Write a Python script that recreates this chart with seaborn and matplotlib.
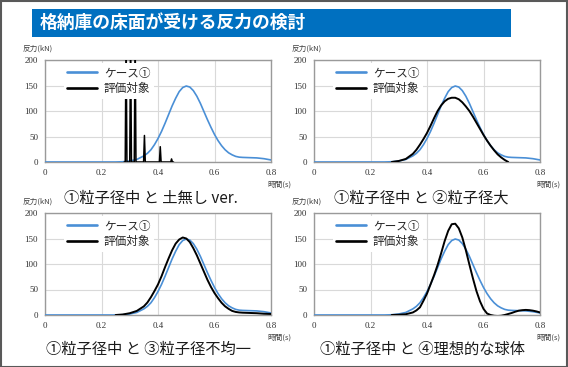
import matplotlib
matplotlib.use("Agg")
import pandas as pd
import seaborn as sns
import matplotlib.pyplot as plt
from matplotlib.patches import Rectangle

# ケース① (blue, same curve in every panel)
case1_t = [0.0, 0.05, 0.1, 0.15, 0.2, 0.25, 0.275, 0.3, 0.325, 0.35,
           0.3625, 0.375, 0.3875, 0.4, 0.4125, 0.425, 0.4375, 0.45, 0.4625,
           0.475, 0.4875, 0.5, 0.5125, 0.525, 0.5375, 0.55, 0.5625, 0.575,
           0.5875, 0.6, 0.6125, 0.625, 0.6375, 0.65, 0.6625, 0.675, 0.6875,
           0.7, 0.725, 0.75, 0.775, 0.8]
case1_y = [0, 0, 0, 0, 0, 0, 0.5, 2, 5, 12,
           17, 24, 34, 46, 60, 76, 93, 110, 125,
           138, 146, 149, 147, 140, 129, 115, 99, 83,
           68, 54, 42, 32, 24, 18, 14, 11, 9.5,
           9, 8.5, 8, 6.5, 4]

# panel 1: 土無し ver. (spikes)
soil_t = [0.280, 0.284, 0.287, 0.290, 0.300, 0.303, 0.306, 0.316, 0.319,
          0.322, 0.349, 0.352, 0.355, 0.405, 0.408, 0.411, 0.445, 0.448,
          0.451, 0.455]
soil_y = [0, 0, 260, 0, 0, 260, 0, 0, 260, 0, 0, 52, 0, 0, 30, 0, 0, 6, 0, 0]

# panel 2: 粒子径大
large_t = [0.275, 0.3, 0.325, 0.35, 0.3625, 0.375, 0.3875, 0.4, 0.4125,
           0.425, 0.4375, 0.45, 0.4625, 0.475, 0.4875, 0.5, 0.5125, 0.525,
           0.5375, 0.55, 0.5625, 0.575, 0.5875, 0.6, 0.6125, 0.625, 0.6375,
           0.65, 0.6625, 0.675, 0.6875]
large_y = [0, 2, 6, 16, 24, 34, 45, 57, 71,
           86, 100, 111, 119, 124, 126, 126, 123, 117,
           109, 100, 89, 77, 65, 53, 42, 32, 23,
           15, 9, 4, 0]

# panel 3: 粒子径不均一
mixed_t = [0.25, 0.275, 0.3, 0.325, 0.35, 0.3625, 0.375, 0.3875, 0.4, 0.4125,
           0.425, 0.4375, 0.45, 0.4625, 0.475, 0.4875, 0.5, 0.5125, 0.525,
           0.5375, 0.55, 0.5625, 0.575, 0.5875, 0.6, 0.6125, 0.625, 0.6375,
           0.65, 0.6625, 0.675, 0.6875, 0.7, 0.725, 0.75, 0.775, 0.8]
mixed_y = [0, 1, 3.5, 8, 17, 24.5, 35, 47, 60, 76,
           94, 111, 127, 140, 148, 152, 150, 143, 131,
           117, 101, 85, 69, 55, 43, 33, 24, 17,
           12, 8, 6, 5, 4.5, 4, 3.5, 2.5, 2]

# panel 4: 理想的な球体
sphere_t = [0.275, 0.3, 0.325, 0.35, 0.3625, 0.375, 0.3875, 0.4, 0.4125,
            0.425, 0.4375, 0.45, 0.4625, 0.475, 0.4875, 0.5, 0.5125, 0.525,
            0.5375, 0.55, 0.5625, 0.575, 0.5875, 0.6, 0.6125, 0.625, 0.6375,
            0.65, 0.6625, 0.675, 0.6875, 0.7, 0.7125, 0.725, 0.7375, 0.75,
            0.7625, 0.775, 0.7875, 0.8]
sphere_y = [0, 0.5, 1.5, 5, 9, 15, 28, 42, 60,
            78, 98, 121, 145, 165, 178, 179, 170, 152,
            127, 99, 72, 47, 27, 12, 3, 0, -1.5,
            -2, -1.5, 0, 2, 4, 6.5, 8.5, 9.5, 10,
            9.5, 8.5, 7, 5]

captions = ["①粒子径中 と 土無し ver.", "①粒子径中 と ②粒子径大",
            "①粒子径中 と ③粒子径不均一", "①粒子径中 と ④理想的な球体"]
x_ticks = [0, 0.2, 0.4, 0.6, 0.8]
x_labels = ["0", "0.2", "0.4", "0.6", "0.8"]
y_ticks = [0, 50, 100, 150, 200]

BLUE = "#4a8fd6"
W, H = 568, 367

sns.set_theme(style="white")
plt.rcParams['font.family'] = ['Noto Sans CJK JP', 'DejaVu Sans']

fig = plt.figure(figsize=(W / 100, H / 100), dpi=100)
fig.patch.set_facecolor("white")

# outer frame and title bar
fig.add_artist(Rectangle((0.5 / W, 0.5 / H), 1 - 1.5 / W, 1 - 1.5 / H,
                         transform=fig.transFigure, fill=False,
                         edgecolor="#595959", linewidth=1.5))
fig.add_artist(Rectangle((32 / W, 1 - 37 / H), 479 / W, 28 / H,
                         transform=fig.transFigure, facecolor="#0070c0",
                         edgecolor="none"))
fig.text(40 / W, 1 - 23 / H, "格納庫の床面が受ける反力の検討", color="white",
         fontsize=12.8, fontweight="bold", va="center", ha="left")

# (left px, top px) of each plot area
boxes = [(45, 60), (314, 60), (45, 213), (314, 213)]
cap_pos = [(151, 198), (421, 198), (149, 349), (422, 349)]
black_series = [(soil_t, soil_y), (large_t, large_y),
                (mixed_t, mixed_y), (sphere_t, sphere_y)]
blue_df = pd.DataFrame({"t": case1_t, "v": case1_y})

for i, ((lx, ty), (bt, by)) in enumerate(zip(boxes, black_series)):
    aw, ah = 226, 102
    ax = fig.add_axes([lx / W, 1 - (ty + ah) / H, aw / W, ah / H])
    black_df = pd.DataFrame({"t": bt, "v": by})
    sns.lineplot(data=blue_df, x="t", y="v", ax=ax, color=BLUE,
                 linewidth=1.2, label="ケース①", zorder=3)
    sns.lineplot(data=black_df, x="t", y="v", ax=ax, color="black",
                 linewidth=1.4 if i else 1.1, label="評価対象", zorder=4)
    ax.set_xlim(0, 0.8)
    ax.set_ylim(0, 200)
    ax.set_xticks(x_ticks)
    ax.set_xticklabels(x_labels)
    ax.set_yticks(y_ticks)
    ax.grid(True, color="#d9d9d9", linewidth=0.8)
    ax.set_axisbelow(True)
    for s in ax.spines.values():
        s.set_color("#9a9a9a")
        s.set_linewidth(1.0)
    ax.tick_params(length=0, pad=5, labelsize=6.5)
    for lab in ax.get_xticklabels() + ax.get_yticklabels():
        lab.set_fontfamily("Liberation Serif")
        lab.set_color("#333333")
    ax.set_xlabel("")
    ax.set_ylabel("")
    leg = ax.legend(loc="upper left", bbox_to_anchor=(0.082, 0.97),
                    frameon=True, fancybox=False, framealpha=1,
                    facecolor="white", edgecolor="none",
                    fontsize=8.4, handlelength=2.6, handletextpad=0.55,
                    labelspacing=0.22, borderpad=0.3, borderaxespad=0)
    for line in leg.get_lines():
        line.set_linewidth(1.9)
    for txt in leg.get_texts():
        txt.set_color("#262626")

    fig.text((lx - 22) / W, 1 - (ty - 11) / H, "反力(kN)", fontsize=5.5,
             color="#404040", ha="left", va="center")
    fig.text((lx + aw + 21) / W, 1 - (ty + ah + 23) / H, "時間(s)",
             fontsize=5.5, color="#404040", ha="right", va="center")
    cx, cy = cap_pos[i]
    fig.text(cx / W, 1 - cy / H, captions[i], fontsize=11, color="#1a1a1a",
             ha="center", va="center")

fig.savefig("out.png", dpi=100)
